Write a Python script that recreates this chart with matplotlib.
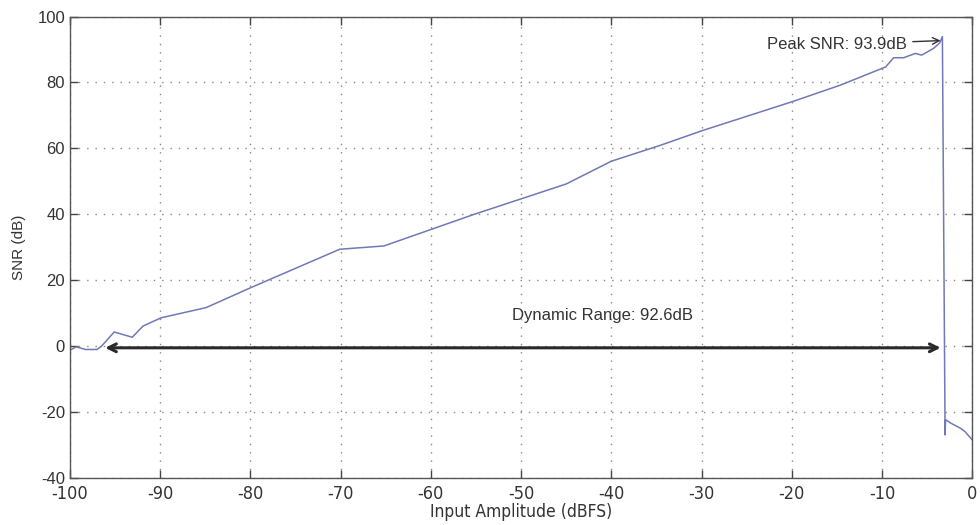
import matplotlib
matplotlib.use("Agg")
import matplotlib.pyplot as plt
from matplotlib import font_manager
from matplotlib.transforms import ScaledTranslation

# Measured SNR versus input amplitude
input_dbfs = [-100, -99.3, -98.3, -97.0, -96.5, -95.1, -93.1, -91.9, -89.9, -84.9,
              -80.0, -70.1, -65.2, -60.2, -55.3, -50.1, -45.0, -40.0, -34.6, -29.9,
              -19.8, -14.6, -9.6, -8.7, -7.6, -6.3, -5.6, -4.3, -3.6, -3.3,
              -3.0, -2.95, -2.4, -1.3, -0.8, 0.0]
snr_db = [-1.2, -0.2, -1.0, -1.0, 0.0, 4.3, 2.7, 6.1, 8.6, 11.7,
          17.7, 29.4, 30.4, 35.2, 39.9, 44.6, 49.2, 56.1, 60.9, 65.4,
          74.3, 79.2, 84.7, 87.5, 87.5, 88.8, 88.3, 90.3, 92.0, 93.9,
          -26.9, -22.3, -23.3, -24.9, -25.9, -28.4]

peak_x, peak_snr = -3.3, 93.9
range_start, range_end, range_y = -96.1, -3.5, -0.5
dynamic_range = 92.6

x_ticks = list(range(-100, 1, 10))
y_ticks = list(range(-40, 101, 20))

# pick a narrow face for the x axis texts if one is installed
narrow_props = None
for f in font_manager.fontManager.ttflist:
    if ("Narrow" in f.name or "Condensed" in f.name or f.stretch in ("condensed", 375, "semi-condensed")) \
            and f.style == "normal" and f.weight in (400, "normal", "regular"):
        narrow_props = font_manager.FontProperties(fname=f.fname)
        break

plt.rcParams["font.family"] = ["Liberation Sans", "DejaVu Sans"]
plt.rcParams["axes.unicode_minus"] = False

fig = plt.figure(figsize=(9.8, 5.25), dpi=100)
ax = fig.add_axes([0.0714, 0.0895, 0.9206, 0.879])

ax.plot(input_dbfs, snr_db, color="#7078b8", lw=1.1)

ax.set_xlim(-100, 0)
ax.set_ylim(-40, 100)
ax.set_xticks(x_ticks)
ax.set_yticks(y_ticks)
xl = ax.set_xticklabels([str(t) for t in x_ticks], fontsize=13, color="#333333")
yl = ax.set_yticklabels([str(t) for t in y_ticks], fontsize=12, color="#333333")
if narrow_props is not None:
    for t in xl:
        t.set_fontproperties(narrow_props)
        t.set_fontsize(13)
# lift the lowest y label a little so it clears the first x label
yl[0].set_transform(yl[0].get_transform() + ScaledTranslation(0, 3 / 72, fig.dpi_scale_trans))

ax.grid(True, linestyle=(0, (1, 5)), color="#888888", lw=1.0)
ax.tick_params(direction="in", length=6, top=True, right=True, color="#444444", width=1.0)
ax.tick_params(axis="x", pad=5)
for s in ax.spines.values():
    s.set_color("#555555")
    s.set_linewidth(1.0)

xlab = ax.set_xlabel("Input Amplitude (dBFS)", fontsize=12, color="#333333", labelpad=0)
if narrow_props is not None:
    xlab.set_fontproperties(narrow_props)
    xlab.set_fontsize(12.5)
ax.set_ylabel("SNR (dB)", fontsize=11, color="#333333", labelpad=8)

# Dynamic range double arrow
ax.annotate("", xy=(range_end, range_y), xytext=(range_start, range_y),
            arrowprops=dict(arrowstyle="<->", color="#2a2a2a", lw=2.2,
                            mutation_scale=14, shrinkA=0, shrinkB=0))
ax.text(-51, 7.0, f"Dynamic Range: {dynamic_range}dB", fontsize=12, color="#333333",
        ha="left", va="bottom")

# Peak SNR annotation
ax.annotate(f"Peak SNR: {peak_snr}dB", xy=(peak_x - 0.2, peak_snr - 1.2),
            xytext=(-22.7, 91.5), fontsize=12, color="#333333", va="center", ha="left",
            arrowprops=dict(arrowstyle="->", color="#333333", lw=1.0,
                            shrinkA=2, shrinkB=0, mutation_scale=12))

fig.savefig("out.png", dpi=100)
